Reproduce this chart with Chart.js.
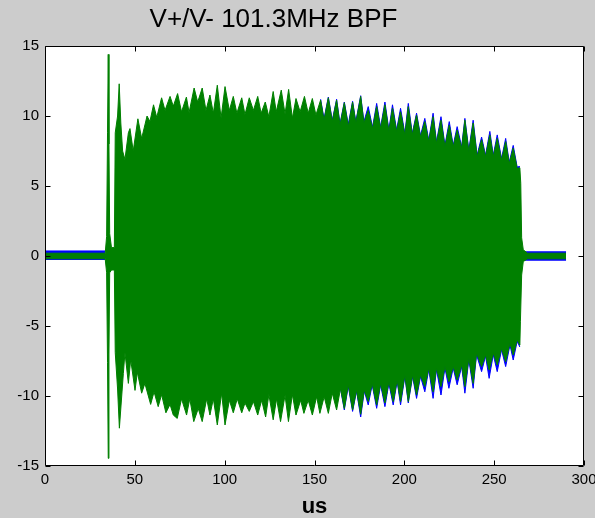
<!DOCTYPE html>
<html>
<head>
<meta charset="utf-8">
<script src="https://cdn.jsdelivr.net/npm/chart.js@4.4.1/dist/chart.umd.min.js"></script>
<style>
  html, body { margin: 0; padding: 0; background: #cccccc; }
  canvas { display: block; }
</style>
</head>
<body>
<canvas id="plot" width="595" height="518"></canvas>
<script>
const TITLE = 'V+/V- 101.3MHz BPF';
const X_LABEL = 'us';
const X_TICKS = [0, 50, 100, 150, 200, 250, 300];
const Y_TICKS = [-15, -10, -5, 0, 5, 10, 15];

const GREEN = '#008000', BLUE = '#0000ff';

// envelope of the V- trace (green), [time us, volts]
const greenUpper = [
  [0, 0.2], [33.5, 0.2], [34.3, 1.4], [34.8, 8.8], [35.2, 14.4], [35.6, 8.0], [36.0, 1.6],
  [37.0, 0.6], [38.6, 0.6], [39.1, 8.8], [40.4, 10.0], [41.3, 12.3], [42.2, 9.5], [43.2, 7.5],
  [44.5, 6.9], [46.4, 8.8], [47.3, 9.1], [49.1, 7.5], [51.7, 9.8], [53.8, 8.4], [56.8, 10.0],
  [58.4, 9.6], [60.4, 10.8], [62.2, 9.9], [64.9, 11.3], [66.8, 10.4], [69.6, 11.4], [71.4, 10.7],
  [73.8, 11.6], [76.0, 10.3], [78.7, 11.35], [80.2, 10.25], [83.0, 12.0], [85.0, 11.0],
  [87.5, 12.0], [89.6, 10.4], [91.8, 11.5], [93.7, 10.2], [95.9, 12.2], [98.0, 9.85],
  [100.2, 12.1], [102.6, 10.4], [104.8, 11.4], [106.8, 10.2], [109.5, 11.3], [111.3, 10.1],
  [113.7, 11.3], [116.0, 10.4], [118.4, 11.4], [120.3, 10.2], [122.6, 11.0], [124.6, 9.95],
  [127.0, 11.75], [128.7, 10.3], [131.5, 11.85], [133.6, 10.15], [135.6, 11.9], [137.7, 9.85],
  [139.7, 11.25], [142.0, 10.3], [144.4, 11.4], [146.5, 10.2], [148.8, 11.25], [150.8, 10.07],
  [153.4, 11.14], [155.3, 9.7], [157.7, 11.3], [159.9, 9.6], [162.3, 11.14], [164.2, 9.35],
  [166.6, 10.95], [168.8, 9.24], [171.2, 11.0], [173.0, 9.5], [175.7, 11.4], [177.5, 9.5],
  [179.9, 10.4], [182.3, 9.1], [184.6, 10.67], [186.8, 9.1], [189.2, 10.8], [191.4, 8.9],
  [193.4, 10.55], [195.7, 8.9], [197.9, 10.3], [200.3, 8.65], [202.2, 10.67], [204.4, 8.65],
  [206.8, 10.07], [209.0, 8.5], [211.4, 9.6], [213.6, 8.17], [216.0, 9.95], [217.9, 8.05],
  [220.4, 9.7], [222.6, 7.8], [225.0, 9.35], [227.2, 7.8], [229.4, 9.0], [231.9, 7.7],
  [233.7, 9.7], [235.9, 7.45], [238.3, 9.5], [240.5, 7.1], [243.0, 8.3], [245.2, 7.1],
  [247.6, 8.65], [249.5, 7.1], [251.7, 8.4], [254.1, 6.86], [256.4, 8.17], [258.4, 6.6],
  [260.6, 7.7], [262.8, 6.25], [264.3, 6.3], [264.8, 5.2], [265.3, 1.3], [266.2, 0.45],
  [268.5, 0.2], [290, 0.2]
];
const greenLower = [
  [0, -0.2], [33.5, -0.2], [34.3, -1.2], [34.8, -7.6], [35.2, -14.45], [35.6, -7.0], [36.0, -1.2],
  [37.0, -1.0], [38.6, -1.0], [39.1, -6.9], [40.4, -9.5], [41.4, -12.3], [42.7, -10.0], [43.6, -8.4],
  [44.5, -6.9], [46.4, -9.1], [47.7, -7.4], [50.1, -9.6], [51.4, -8.3], [53.8, -9.8], [55.6, -9.1],
  [58.8, -10.6], [60.7, -9.7], [63.0, -10.76], [64.9, -9.9], [67.3, -11.2], [69.6, -10.6],
  [71.4, -11.36], [73.6, -11.6], [76.0, -10.2], [78.8, -11.36], [80.6, -10.2], [82.8, -11.83],
  [85.3, -10.9], [87.5, -11.83], [90.0, -10.2], [91.8, -11.36], [93.7, -10.2], [95.9, -12.07],
  [98.3, -9.8], [100.2, -12.07], [102.6, -10.3], [104.8, -11.2], [107.0, -10.2], [109.5, -11.2],
  [111.3, -10.5], [113.7, -11.1], [116.0, -10.4], [118.4, -11.36], [120.6, -10.3], [122.8, -11.5],
  [124.6, -9.9], [127.0, -11.7], [128.9, -10.2], [131.1, -11.83], [133.6, -9.95], [135.5, -11.83],
  [137.7, -9.9], [139.7, -11.36], [142.3, -10.3], [144.1, -11.24], [146.5, -10.3], [148.8, -11.36],
  [151.2, -10.05], [153.0, -11.24], [155.4, -10.05], [157.7, -11.24], [159.9, -9.8], [162.3, -11.0],
  [164.5, -9.45], [166.6, -10.9], [168.8, -9.2], [171.2, -11.0], [173.4, -9.57], [175.7, -11.3],
  [177.7, -9.57], [179.9, -10.4], [182.1, -9.1], [184.6, -10.64], [186.8, -9.1], [189.2, -10.5],
  [191.4, -8.98], [193.8, -10.4], [196.0, -8.86], [197.9, -10.4], [200.3, -8.5], [202.2, -10.4],
  [204.6, -8.5], [206.8, -9.93], [209.0, -8.5], [211.4, -9.33], [213.6, -8.0], [216.0, -9.7],
  [217.9, -8.0], [220.4, -9.33], [222.6, -7.9], [224.8, -8.98], [227.2, -7.9], [229.4, -8.86],
  [231.9, -7.79], [233.7, -9.33], [235.9, -7.3], [238.3, -9.1], [240.2, -6.95], [243.0, -7.9],
  [245.2, -7.07], [247.2, -8.14], [249.5, -6.95], [251.7, -7.79], [254.1, -6.6], [256.4, -7.55],
  [258.8, -6.24], [260.6, -7.07], [262.8, -6.0], [264.3, -6.36], [264.6, -4.7], [265.3, -1.36],
  [266.2, -0.4], [268.5, -0.2], [290, -0.2]
];

// V+ trace (blue) only where it shows past the green one; null = hidden under green
const blueUpper = [
  [0, 0.36], [33.5, 0.36], [34.0, null],
  [153.4, 11.2], [155.3, 9.8], [157.7, 11.35], [159.9, 9.7], [162.3, 11.2], [164.2, 9.45],
  [166.6, 11.0], [168.8, 9.4], [171.2, 11.05], [173.0, 9.6], [175.7, 11.45], [177.5, 9.6],
  [179.9, 10.67], [182.3, 9.2], [184.6, 10.9], [186.8, 9.2], [189.2, 11.0], [191.4, 9.0],
  [193.4, 10.8], [195.7, 9.0], [197.9, 10.55], [200.3, 8.75], [202.2, 10.9], [204.4, 8.75],
  [206.8, 10.2], [209.0, 8.6], [211.4, 9.83], [213.6, 8.27], [216.0, 10.2], [217.9, 8.15],
  [220.4, 9.95], [222.6, 7.9], [225.0, 9.6], [227.2, 7.9], [229.4, 9.24], [231.9, 7.8],
  [233.7, 9.83], [235.9, 7.55], [238.3, 9.7], [240.5, 7.2], [243.0, 8.5], [245.2, 7.2],
  [247.6, 8.9], [249.5, 7.2], [251.7, 8.65], [254.1, 6.96], [256.4, 8.4], [258.4, 6.7],
  [260.6, 7.9], [262.8, 6.35], [264.3, 6.4], [264.6, null],
  [266.0, 0.3], [290, 0.3]
];
const blueLower = [
  [0, -0.25], [33.5, -0.25], [34.0, null],
  [164.5, -9.5], [166.6, -11.0], [168.8, -9.3], [171.2, -11.1], [173.4, -9.65], [175.7, -11.5],
  [177.7, -9.65], [179.9, -10.64], [182.1, -9.2], [184.6, -10.88], [186.8, -9.2], [189.2, -10.76],
  [191.4, -9.1], [193.8, -10.64], [196.0, -8.95], [197.9, -10.64], [200.3, -8.6], [202.2, -10.5],
  [204.6, -8.6], [206.8, -10.17], [209.0, -8.6], [211.4, -9.7], [213.6, -8.1], [216.0, -10.17],
  [217.9, -8.1], [220.4, -9.93], [222.6, -8.0], [224.8, -9.45], [227.2, -8.0], [229.4, -9.2],
  [231.9, -7.9], [233.7, -9.8], [235.9, -7.4], [238.3, -9.45], [240.2, -7.05], [243.0, -8.26],
  [245.2, -7.15], [247.2, -8.74], [249.5, -7.05], [251.7, -8.26], [254.1, -6.7], [256.4, -7.9],
  [258.8, -6.35], [260.6, -7.43], [262.8, -6.1], [264.3, -6.5], [264.6, null],
  [266.0, -0.3], [290, -0.3]
];

const FONT = '"Liberation Sans", Arial, sans-serif';

const toPts = arr => arr.map(([x, y]) => ({ x, y }));
const trace = (data, color) => ({
  data: toPts(data),
  borderColor: color,
  backgroundColor: color,
  borderWidth: 1,
  pointRadius: 0,
  tension: 0,
  spanGaps: false,
  fill: 'origin'
});

// grey figure, white axes, box with inward ticks, title
const matlabFrame = {
  id: 'matlabFrame',
  beforeDraw(chart) {
    const { ctx, chartArea: a } = chart;
    ctx.save();
    ctx.fillStyle = '#cccccc';
    ctx.fillRect(0, 0, chart.width, chart.height);
    ctx.fillStyle = '#ffffff';
    ctx.fillRect(a.left, a.top, a.right - a.left, a.bottom - a.top);
    ctx.restore();
  },
  afterDraw(chart) {
    const { ctx, chartArea: a, scales } = chart;
    const L = Math.round(a.left) + 0.5, R = Math.round(a.right) - 0.5;
    const T = Math.round(a.top) + 0.5, B = Math.round(a.bottom) - 0.5;
    ctx.save();
    ctx.strokeStyle = '#000000';
    ctx.lineWidth = 1;
    ctx.beginPath();
    ctx.rect(L, T, R - L, B - T);
    X_TICKS.forEach(v => {
      const x = Math.round(scales.x.getPixelForValue(v)) + 0.5;
      ctx.moveTo(x, B); ctx.lineTo(x, B - 5);
      ctx.moveTo(x, T); ctx.lineTo(x, T + 5);
    });
    Y_TICKS.forEach(v => {
      const y = Math.round(scales.y.getPixelForValue(v)) + 0.5;
      ctx.moveTo(L, y); ctx.lineTo(L + 5, y);
      ctx.moveTo(R, y); ctx.lineTo(R - 5, y);
    });
    ctx.stroke();
    ctx.fillStyle = '#000000';
    ctx.font = '26px ' + FONT;
    ctx.textAlign = 'center';
    ctx.textBaseline = 'alphabetic';
    ctx.fillText(TITLE, 273.5, 27);
    ctx.restore();
  }
};

new Chart(document.getElementById('plot'), {
  type: 'line',
  data: {
    datasets: [
      trace(greenUpper, GREEN),
      trace(greenLower, GREEN),
      trace(blueUpper, BLUE),
      trace(blueLower, BLUE)
    ]
  },
  options: {
    responsive: false,
    animation: false,
    devicePixelRatio: 1,
    layout: { padding: { top: 46, right: 11, left: 0, bottom: 0 } },
    plugins: { legend: { display: false }, tooltip: { enabled: false }, title: { display: false } },
    scales: {
      x: {
        type: 'linear',
        min: X_TICKS[0],
        max: X_TICKS[X_TICKS.length - 1],
        afterBuildTicks: s => { s.ticks = X_TICKS.map(value => ({ value })); },
        afterFit: s => { s.height = 52; s.paddingLeft = 0; s.paddingRight = 0; },
        grid: { display: false, drawTicks: false },
        border: { display: false },
        ticks: { color: '#000', font: { family: FONT, size: 15 }, padding: 5, maxRotation: 0 },
        title: { display: true, text: X_LABEL, color: '#000', font: { family: FONT, size: 22, weight: 'bold', lineHeight: 1 }, padding: 0 }
      },
      y: {
        min: Y_TICKS[0],
        max: Y_TICKS[Y_TICKS.length - 1],
        afterBuildTicks: s => { s.ticks = Y_TICKS.map(value => ({ value })); },
        afterFit: s => { s.width = 45; },
        grid: { display: false, drawTicks: false },
        border: { display: false },
        ticks: { color: '#000', font: { family: FONT, size: 15 }, padding: 6 }
      }
    }
  },
  plugins: [matlabFrame]
});
</script>
</body>
</html>
